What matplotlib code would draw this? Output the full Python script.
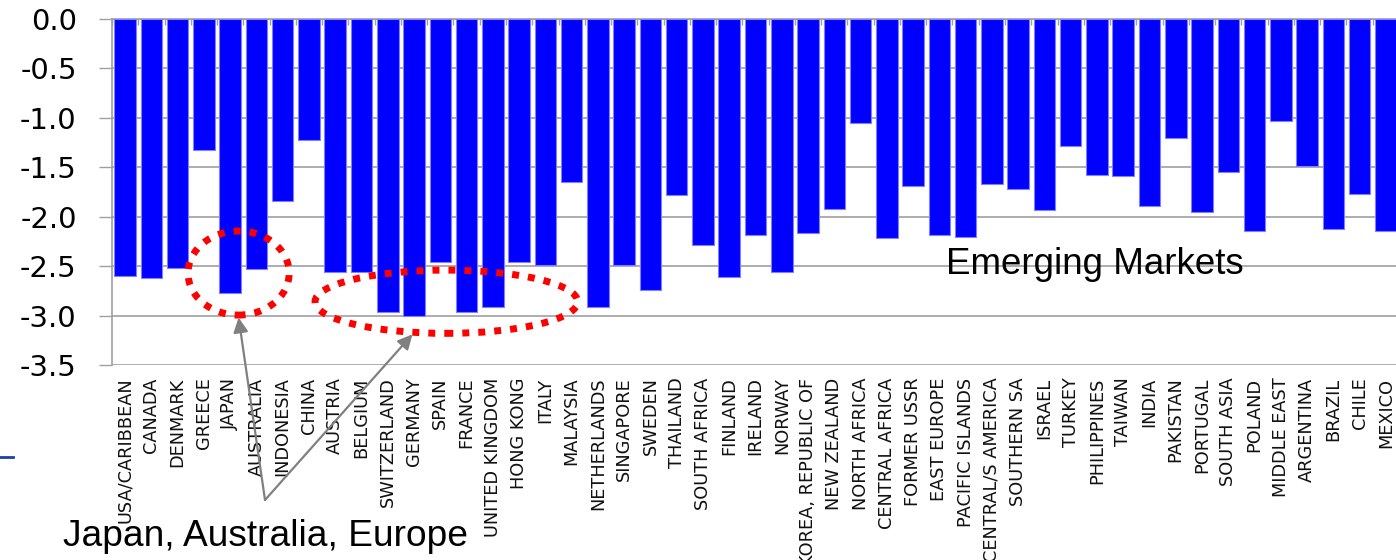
import matplotlib
matplotlib.use("Agg")
import matplotlib.pyplot as plt
from matplotlib.patches import Ellipse
from matplotlib.lines import Line2D
import numpy as np

categories = [
    "USA/CARIBBEAN", "CANADA", "DENMARK", "GREECE", "JAPAN", "AUSTRALIA",
    "INDONESIA", "CHINA", "AUSTRIA", "BELGIUM", "SWITZERLAND", "GERMANY",
    "SPAIN", "FRANCE", "UNITED KINGDOM", "HONG KONG", "ITALY", "MALAYSIA",
    "NETHERLANDS", "SINGAPORE", "SWEDEN", "THAILAND", "SOUTH AFRICA",
    "FINLAND", "IRELAND", "NORWAY", "KOREA, REPUBLIC OF", "NEW ZEALAND",
    "NORTH AFRICA", "CENTRAL AFRICA", "FORMER USSR", "EAST EUROPE",
    "PACIFIC ISLANDS", "CENTRAL/S AMERICA", "SOUTHERN SA", "ISRAEL",
    "TURKEY", "PHILIPPINES", "TAIWAN", "INDIA", "PAKISTAN", "PORTUGAL",
    "SOUTH ASIA", "POLAND", "MIDDLE EAST", "ARGENTINA", "BRAZIL", "CHILE",
    "MEXICO",
]
values = [
    -2.60, -2.62, -2.52, -1.33, -2.77, -2.53,
    -1.84, -1.22, -2.56, -2.56, -2.96, -3.00,
    -2.46, -2.96, -2.91, -2.46, -2.49, -1.65,
    -2.91, -2.49, -2.74, -1.78, -2.29,
    -2.61, -2.19, -2.56, -2.16, -1.92,
    -1.05, -2.22, -1.69, -2.19,
    -2.21, -1.67, -1.72, -1.93,
    -1.28, -1.58, -1.59, -1.89, -1.20, -1.95,
    -1.55, -2.14, -1.03, -1.49, -2.12, -1.77,
    -2.14,
]
y_ticks = [0.0, -0.5, -1.0, -1.5, -2.0, -2.5, -3.0, -3.5]
annotation_text = "Japan, Australia, Europe"
region_text = "Emerging Markets"

W, H = 1396, 560
fig = plt.figure(figsize=(W / 100, H / 100), dpi=100)
ax = fig.add_axes([112 / W, 1 - 365 / H, (1399 - 112) / W, (365 - 19) / H])

x = np.arange(len(categories))
ax.bar(x, values, width=0.82, color="#0000ff", edgecolor="#8080ff",
       linewidth=0.8, zorder=3)

ax.set_xlim(-0.5, len(categories) - 0.5)
ax.set_ylim(-3.5, 0.0)

grid_color = "#a0a0a0"
ax.set_yticks(y_ticks)
ax.set_yticklabels([f"{v:.1f}" for v in y_ticks])
ax.yaxis.grid(True, color=grid_color, linewidth=1.2, zorder=0)
ax.set_axisbelow(True)
ax.tick_params(axis="y", length=9.4, width=1.0, color=grid_color, pad=16,
               labelsize=21)
for lab in ax.get_yticklabels():
    lab.set_fontfamily("DejaVu Sans")

ax.set_xticks(x)
ax.set_xticklabels(categories, rotation=90, fontsize=12.8,
                   fontfamily="DejaVu Sans", color="#111111")
ax.tick_params(axis="x", which="major", length=0, pad=9)
ax.set_xticks(np.arange(len(categories) + 1) - 0.5, minor=True)
ax.tick_params(axis="x", which="minor", bottom=False, top=True,
               direction="in", length=4, color=grid_color, width=1.0)

for side in ["right", "bottom"]:
    ax.spines[side].set_visible(False)
ax.spines["left"].set_color(grid_color)
ax.spines["left"].set_linewidth(1.2)
ax.spines["top"].set_color(grid_color)
ax.spines["top"].set_linewidth(1.2)

# red dotted ellipses
dot_style = (0, (1.0, 1.3))
e1 = Ellipse((4.32, -2.57), width=3.85, height=0.85, fill=False,
             edgecolor="#ff0000", linewidth=5.0, linestyle=dot_style,
             zorder=5, clip_on=False)
e2 = Ellipse((12.23, -2.86), width=10.0, height=0.64, fill=False,
             edgecolor="#ff0000", linewidth=5.0, linestyle=dot_style,
             zorder=5, clip_on=False)
ax.add_patch(e1)
ax.add_patch(e2)

# arrows from annotation text
arrow_kw = dict(arrowstyle="-|>", color="#808080", lw=1.6,
                mutation_scale=22, shrinkA=0, shrinkB=0)
ax.annotate("", xy=(4.32, -3.02), xycoords="data",
            xytext=(265, H - 500), textcoords="figure pixels",
            arrowprops=arrow_kw, annotation_clip=False)
ax.annotate("", xy=(10.94, -3.19), xycoords="data",
            xytext=(265, H - 500), textcoords="figure pixels",
            arrowprops=arrow_kw, annotation_clip=False)

fig.text(63 / W, (H - 546) / H, annotation_text, fontsize=26.7,
         fontfamily="Liberation Sans", ha="left", va="baseline",
         color="black")
ax.text(36.94, -2.58, region_text, fontsize=26.5, fontfamily="Liberation Sans",
        ha="center", va="baseline", color="black", zorder=6)

# small blue line at left edge
fig.add_artist(Line2D([0, 13 / W], [(H - 457) / H, (H - 457) / H],
                      color="#2040a8", linewidth=2))

fig.savefig("out.png", dpi=100)
